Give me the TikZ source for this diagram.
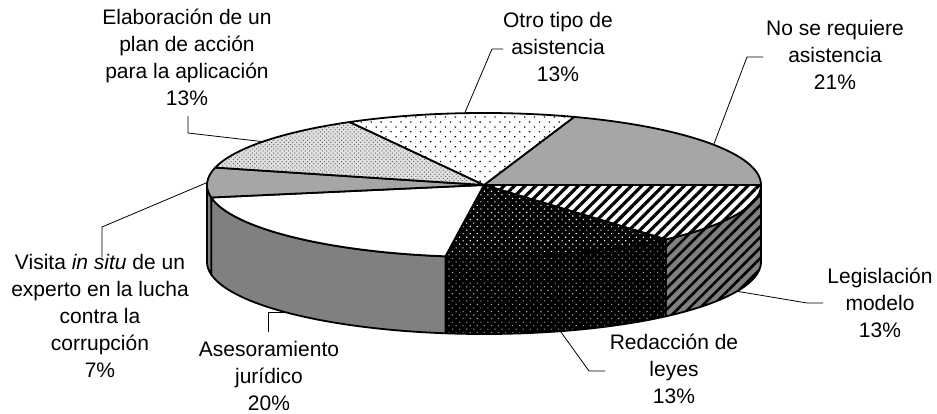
\documentclass[tikz,border=0pt]{standalone}
\usepackage{fontspec}
\setmainfont{Liberation Sans}
\usetikzlibrary{patterns.meta,calc}
\definecolor{gtop}{gray}{0.65}
\definecolor{gside}{gray}{0.5}
\definecolor{gelab}{gray}{0.88}
\definecolor{gdot}{gray}{0.4}
\newcommand\pietop[3]{\path[#3] (C) -- ($(C)+(-#1:277pt and 72pt)$) arc[start angle=-#1, end angle=-#2, x radius=277pt, y radius=72pt] -- cycle;}
\newcommand\pieside[3]{\path[#3] ($(C)+(-#1:277pt and 72pt)$) arc[start angle=-#1, end angle=-#2, x radius=277pt, y radius=72pt] -- ++(0,77) arc[start angle=-#2, end angle=-#1, x radius=277pt, y radius=72pt] -- cycle;}
\begin{document}
\begin{tikzpicture}[x=1pt,y=-1pt,
  lbl/.style={font=\fontsize{21}{27}\selectfont, align=center, inner sep=0pt, anchor=base},
  leader/.style={draw=black, line width=0.8pt},
  edgeline/.style={draw=black, line width=1.8pt, line join=round},
  sNo/.style={edgeline, fill=gtop},
  sLegTop/.style={edgeline, preaction={fill=white}, pattern={Lines[angle=45,distance=7.5pt,line width=3.2pt]}, pattern color=black},
  sLegSide/.style={edgeline, preaction={fill=gside}, pattern={Lines[angle=45,distance=7.5pt,line width=2.6pt]}, pattern color=black},
  sRedTop/.style={edgeline, preaction={fill=black}, pattern={Dots[distance=5pt,radius=0.8pt,angle=45]}, pattern color=white},
  sRedSide/.style={edgeline, preaction={fill=black}, pattern={Dots[distance=5pt,radius=0.8pt,angle=45]}, pattern color=gray!70},
  sAsesTop/.style={edgeline, fill=white},
  sAsesSide/.style={edgeline, fill=gside},
  sVisTop/.style={edgeline, fill=gtop},
  sVisSide/.style={edgeline, fill=gside},
  sElab/.style={edgeline, preaction={fill=gelab}, pattern={Dots[distance=3pt,radius=0.7pt,angle=45]}, pattern color=gdot},
  sOtro/.style={edgeline, preaction={fill=white}, pattern={Dots[distance=7pt,radius=0.9pt,angle=45]}, pattern color=black}
]
\useasboundingbox (0,0) rectangle (937,414);
\coordinate (C) at (484,185);
\coordinate (D) at (484,262);

% side faces
\pieside{0}{49}{sLegSide}
\pieside{49}{98}{sRedSide}
\pieside{98}{170}{sAsesSide}
\pieside{170}{180}{sVisSide}

% top faces
\pietop{289}{360}{sNo}
\pietop{0}{49}{sLegTop}
\pietop{49}{98}{sRedTop}
\pietop{98}{170}{sAsesTop}
\pietop{170}{194}{sVisTop}
\pietop{194}{241}{sElab}
\pietop{241}{289}{sOtro}

% labels (anchor = baseline of last line)
\node[lbl] (elab) at (187,106) {Elaboración de un\\plan de acción\\para la aplicación\\13\%};
\node[lbl] (otro) at (558,82) {Otro tipo de\\asistencia\\13\%};
\node[lbl] (nose) at (835,90) {No se requiere\\asistencia\\21\%};
\node[lbl] (legis) at (880,337) {Legislación\\modelo\\13\%};
\node[lbl] (redac) at (674,403) {Redacción de\\leyes\\13\%};
\node[lbl] (ases) at (269,410) {Asesoramiento\\jurídico\\20\%};
\node[lbl] (visita) at (100,377) {Visita \textit{in situ} de un\\experto en la lucha\\contra la\\corrupción\\7\%};

% leader coordinates
\coordinate (elabA) at (188,116);
\coordinate (elabB) at (188,133);
\coordinate (elabE) at ($(C)+(-217:277pt and 72pt)$);
\coordinate (otroA) at (503,49);
\coordinate (otroB) at (492,49);
\coordinate (otroE) at ($(C)+(-266:277pt and 72pt)$);
\coordinate (noseA) at (763,57);
\coordinate (noseB) at (747,57);
\coordinate (noseE) at ($(C)+(-326:277pt and 72pt)$);
\coordinate (legisA) at (823,303);
\coordinate (legisB) at (807,303);
\coordinate (legisE) at ($(D)+(-24:277pt and 72pt)$);
\coordinate (redacA) at (605,371);
\coordinate (redacB) at (589,371);
\coordinate (redacE) at ($(D)+(-74:277pt and 72pt)$);
\coordinate (asesE) at ($(D)+(-136:277pt and 72pt)$);
\coordinate (asesB) at (268,0 |- asesE);
\coordinate (asesA) at (268,332);
\coordinate (visA) at (102,257);
\coordinate (visB) at (102,227);
\coordinate (visE) at ($(C)+(-182:277pt and 72pt)$);

\draw[leader] (elabA) -- (elabB) -- (elabE);
\draw[leader] (otroA) -- (otroB) -- (otroE);
\draw[leader] (noseA) -- (noseB) -- (noseE);
\draw[leader] (legisA) -- (legisB) -- (legisE);
\draw[leader] (redacA) -- (redacB) -- (redacE);
\draw[leader] (asesA) -- (asesB) -- (asesE);
\draw[leader] (visA) -- (visB) -- (visE);
\end{tikzpicture}
\end{document}
